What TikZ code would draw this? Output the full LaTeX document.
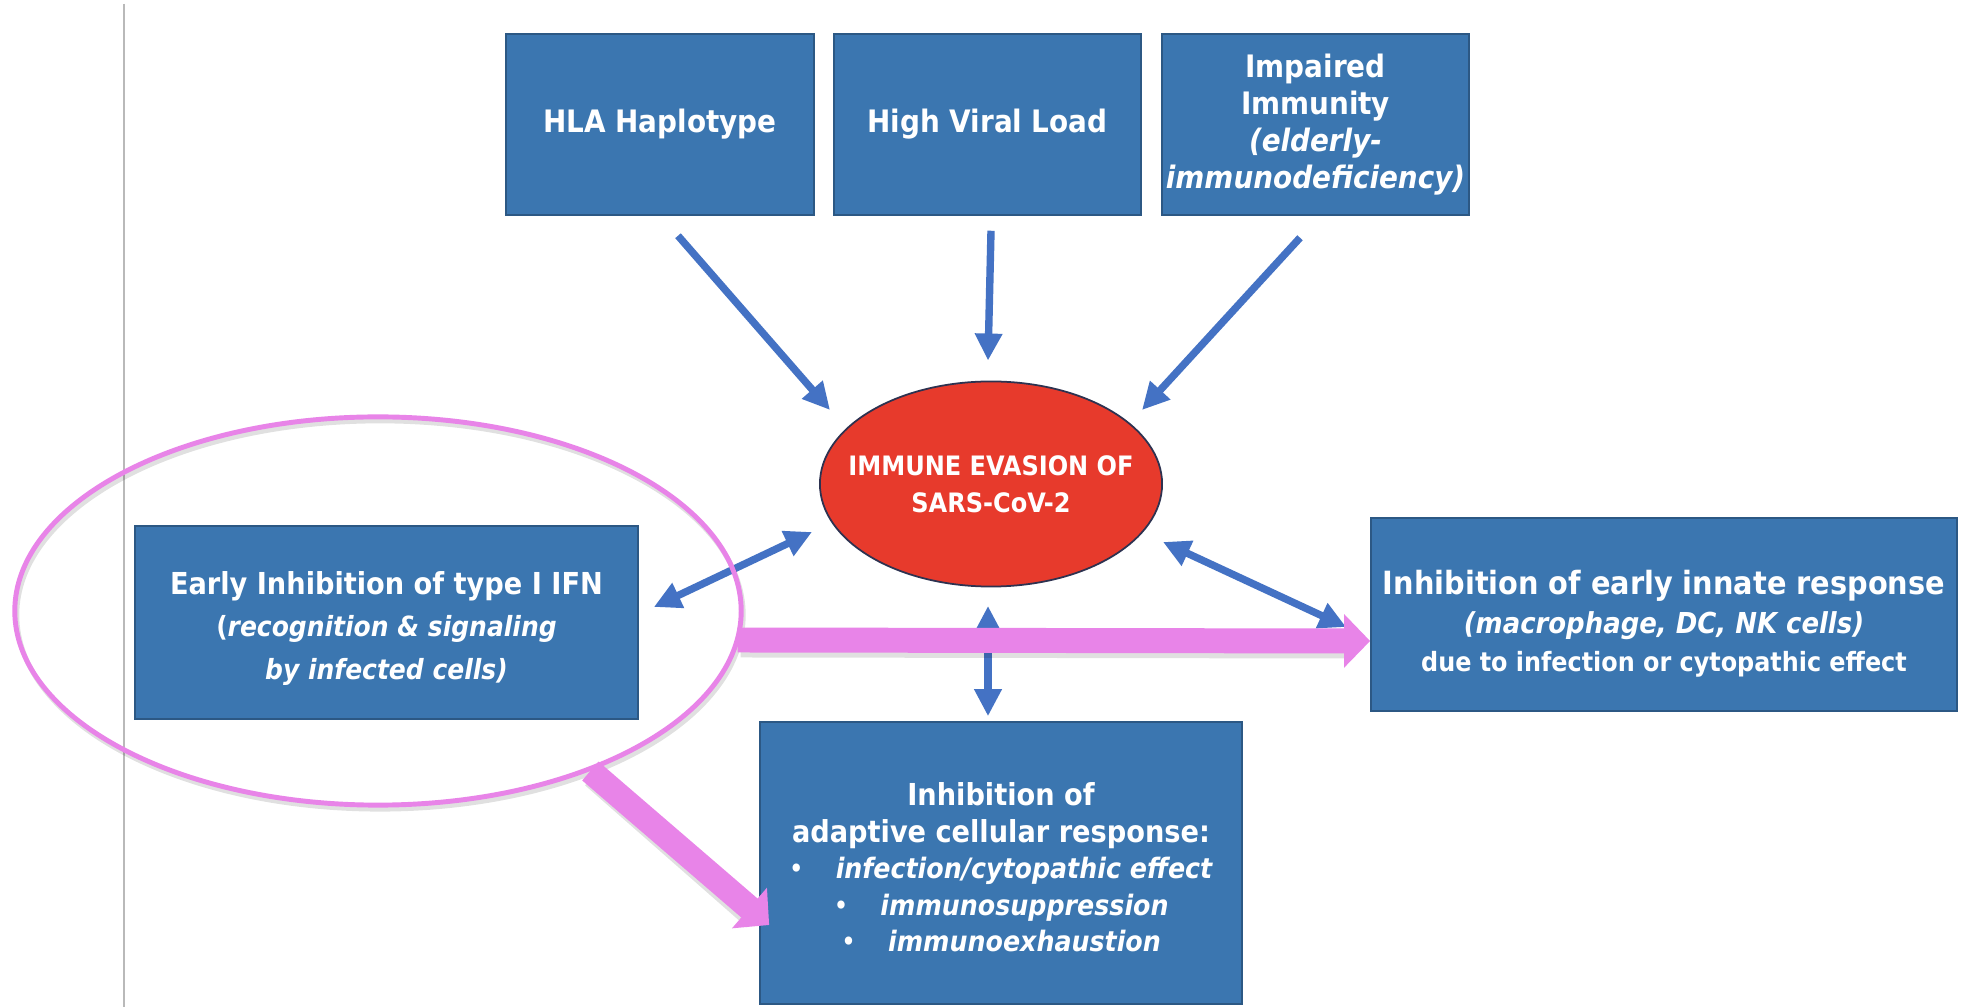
\documentclass[tikz,border=0pt]{standalone}
\usepackage{fontspec}
\setmainfont{DejaVu Sans Condensed}[
  BoldFont={DejaVu Sans Condensed Bold},
  ItalicFont={DejaVu Sans Condensed Oblique},
  BoldItalicFont={DejaVu Sans Condensed Bold Oblique}]
\usetikzlibrary{shapes.geometric,arrows.meta}

\definecolor{boxblue}{RGB}{59,118,176}
\definecolor{arrowblue}{RGB}{68,114,196}
\definecolor{evred}{RGB}{231,58,44}
\definecolor{evedge}{RGB}{45,50,80}
\definecolor{pinkv}{RGB}{232,132,232}

\begin{document}
\begin{tikzpicture}[x=0.01cm, y=-0.01cm,
    box/.style={rectangle, draw=boxblue!75!black, line width=0.4pt, fill=boxblue,
      text=white, font=\bfseries, align=center, inner sep=0pt},
    blue arrow/.style={-{Triangle[length=0.27cm,width=0.26cm]}, line width=2.1pt, arrowblue},
    blue both/.style={{Triangle[length=0.27cm,width=0.26cm]}-{Triangle[length=0.27cm,width=0.26cm]},
      line width=2.1pt, arrowblue},
    pink arrow/.style={-{Triangle[length=0.26cm,width=0.52cm]}, line width=7.1pt, pinkv},
    pink shadow/.style={line width=7.1pt, black, opacity=0.12}
  ]
  \useasboundingbox[fill=white] (0,0) rectangle (1961,1007);
  \draw[gray!55, line width=0.6pt] (124,4) -- (124,1007);

  % top row
  \node[box, minimum width=3.08cm, minimum height=1.81cm,
    font=\bfseries\fontsize{8.8}{10.5}\selectfont] (hla) at (660,124.5) {HLA Haplotype};
  \node[box, minimum width=3.07cm, minimum height=1.81cm,
    font=\bfseries\fontsize{8.8}{10.5}\selectfont] (hvl) at (987.5,124.5) {High Viral Load};
  \node[box, minimum width=3.07cm, minimum height=1.81cm,
    font=\bfseries\fontsize{8.8}{10.5}\selectfont] (imp) at (1315.5,124.5)
    {Impaired\\Immunity\\\textit{(elderly-}\\\textit{immunodeficiency)}};

  % centre
  \node[ellipse, draw=evedge, line width=0.5pt, fill=evred, inner sep=0pt,
    minimum width=3.42cm, minimum height=2.05cm] (ev) at (991,484) {};
  \node[text=white, align=center, font=\bfseries\fontsize{7.6}{10.5}\selectfont]
    (evtext) at (ev) {IMMUNE EVASION OF\\SARS-CoV-2};

  % outcomes
  \node[box, minimum width=5.03cm, minimum height=1.93cm,
    font=\bfseries\fontsize{8.6}{12}\selectfont] (ifn) at (386.5,622.5)
    {\rule{0pt}{9.9pt}Early Inhibition of type I IFN\\
     \fontsize{7.9}{12}\selectfont(\textit{recognition \& signaling}\\
     \fontsize{7.9}{12}\selectfont\textit{by infected cells)}};
  \node[box, minimum width=5.86cm, minimum height=1.93cm,
    font=\bfseries\fontsize{9.1}{11}\selectfont] (innate) at (1664,614.5)
    {\rule{0pt}{12.3pt}Inhibition of early innate response\\
     \fontsize{8.2}{11}\selectfont\textit{(macrophage, DC, NK cells)}\\
     \fontsize{7.55}{11}\selectfont due to infection or cytopathic effect};
  \node[box, minimum width=4.82cm, minimum height=2.82cm,
    font=\bfseries\fontsize{8.6}{10.4}\selectfont] (adapt) at (1001,863)
    {\rule{0pt}{9.1pt}Inhibition of\\adaptive cellular response:\\
     \fontsize{8}{10.4}\selectfont{\mdseries\textbullet}\hspace{0.32cm}\textit{infection/cytopathic effect}\\
     \fontsize{8}{10.4}\selectfont{\mdseries\textbullet}\hspace{0.32cm}\textit{immunosuppression}\\
     \fontsize{8}{10.4}\selectfont{\mdseries\textbullet}\hspace{0.32cm}\textit{immunoexhaustion}};

  % arrows into the centre
  \draw[blue arrow] ([shift={(18,20)}]hla.south) -- ([shift={(-161,-74)}]ev.center);
  \draw[blue arrow] ([shift={(3.5,15)}]hvl.south) -- ([shift={(-3,-20)}]ev.north);
  \draw[blue arrow] ([shift={(-15.5,22)}]imp.south) -- ([shift={(151,-74)}]ev.center);

  % two-way arrows
  \draw[blue both] ([shift={(15,-15.5)}]ifn.east) -- ([shift={(-179,48)}]ev.center);
  \draw[blue both] ([shift={(172,58)}]ev.center) -- ([shift={(-24,12.5)}]innate.west);
  \draw[blue both] ([shift={(-3,18.5)}]ev.south) -- ([shift={(-13,-5)}]adapt.north);

  % pink marks
  \node[ellipse, draw=black, opacity=0.12, line width=1.4pt, inner sep=0pt,
    minimum width=7.26cm, minimum height=3.88cm] (circsh) at (380,615) {};
  \node[ellipse, draw=pinkv, line width=1.4pt, inner sep=0pt,
    minimum width=7.26cm, minimum height=3.88cm] (circ) at (378,611) {};
  \coordinate (p1) at ([shift={(-6,29)}]circ.east);
  \coordinate (p2) at ([shift={(0,26.5)}]innate.west);
  \coordinate (p3) at (circ.-37);
  \coordinate (p4) at ([shift={(10,62)}]adapt.west);
  \draw[pink shadow] ([shift={(3,5)}]p1) -- ([shift={(-20,5)}]p2);
  \draw[pink shadow] ([shift={(3,5)}]p3) -- ([shift={(-14,-7)}]p4);
  \draw[pink arrow] (p1) -- (p2);
  \draw[pink arrow] (p3) -- (p4);
\end{tikzpicture}
\end{document}
